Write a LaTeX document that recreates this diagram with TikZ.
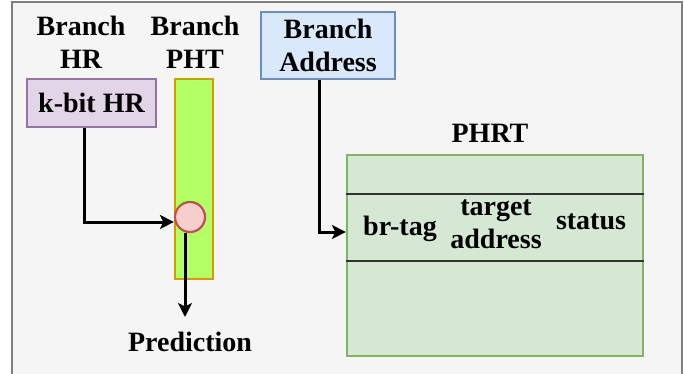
\documentclass[tikz,border=0pt]{standalone}
\usepackage{fontspec}
\setmainfont{Liberation Serif}
\usetikzlibrary{arrows.meta}
\definecolor{bgc}{HTML}{F5F5F5}
\definecolor{framec}{HTML}{7F7F7F}
\definecolor{purfill}{HTML}{E1D5E7}
\definecolor{purline}{HTML}{9673A6}
\definecolor{limefill}{HTML}{B3FF66}
\definecolor{orline}{HTML}{D79B00}
\definecolor{redfill}{HTML}{F8CECC}
\definecolor{redline}{HTML}{B85450}
\definecolor{bluefill}{HTML}{DAE8FC}
\definecolor{blueline}{HTML}{6C8EBF}
\definecolor{grnfill}{HTML}{D5E8D4}
\definecolor{grnline}{HTML}{82B366}
\tikzset{
  lbl/.style={font=\fontsize{28}{33}\selectfont\bfseries, align=center, inner sep=0pt},
  boxn/.style={draw, line width=2.2pt, inner sep=0pt, align=center, font=\fontsize{28}{33}\selectfont\bfseries},
  arr/.style={line width=3pt, -{Stealth[length=14pt,width=14pt,inset=3.5pt]}},
}
\begin{document}
\begin{tikzpicture}[x=1pt,y=-1pt]
\useasboundingbox (0,0) rectangle (684,373);
\fill[white] (0,0) rectangle (684,373);
\filldraw[fill=bgc, draw=framec, line width=2.2pt] (12,2) rectangle (682,380);

\node[lbl] (hrlbl) at (81,42) {Branch\\HR};
\node[lbl] (phtlbl) at (195,42) {Branch\\PHT};

\node[boxn, fill=purfill, draw=purline, minimum width=129pt, minimum height=48pt] (hr) at (91.5,103) {k-bit HR};
\node[draw=orline, fill=limefill, line width=2.2pt, minimum width=38pt, minimum height=200pt, inner sep=0pt] (pht) at (194,179) {};
\node[circle, draw=redline, fill=redfill, line width=2.2pt, minimum size=30pt, inner sep=0pt] (circ) at (190,217) {};

\node[boxn, fill=bluefill, draw=blueline, minimum width=134pt, minimum height=67pt] (addr) at (328,45.5) {Branch\\Address};

\node[lbl] (phrtlbl) at (490,133) {PHRT};
\node[draw=grnline, fill=grnfill, line width=2.2pt, minimum width=296pt, minimum height=201pt, inner sep=0pt] (phrt) at (495,255.5) {};
\draw[line width=2pt, black!80] (phrt.west |- 0,194) -- (phrt.east |- 0,194);
\draw[line width=2pt, black!80] (phrt.west |- 0,261) -- (phrt.east |- 0,261);

\node[lbl] (brtag) at (400,229) {br-tag};
\node[lbl] (taddr) at (496,224) {target\\address};
\node[lbl] (status) at (591,222) {status};

\node[lbl] (pred) at (190,342) {Prediction};

\coordinate (ptip) at (185,317);
\coordinate (hrbend) at (84,222);
\coordinate (abend) at (319,232);

\draw[arr] (hr.south -| hrbend) -- (hrbend) -- (circ.west |- hrbend);
\draw[arr] (circ.south -| ptip) -- (ptip);
\draw[arr] (addr.south -| abend) -- (abend) -- (phrt.west |- abend);
\end{tikzpicture}
\end{document}
